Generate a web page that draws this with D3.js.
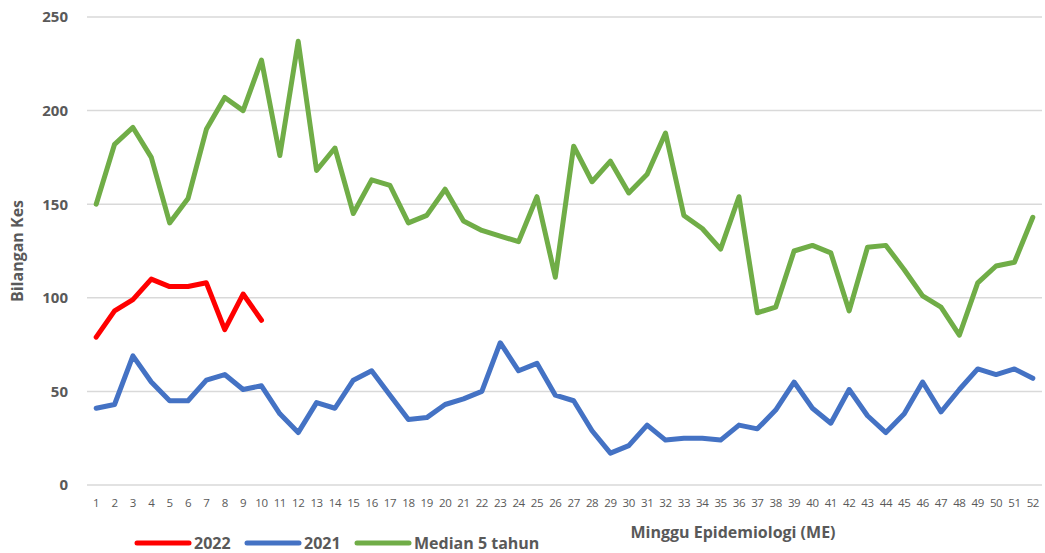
<!DOCTYPE html>
<html>
<head>
<meta charset="utf-8">
<script src="https://cdn.jsdelivr.net/npm/d3@7"></script>
<style>
  body { margin: 0; background: #fff; }
  svg { font-family: "Open Sans", "Liberation Sans", sans-serif; }
</style>
</head>
<body>
<svg id="chart" width="1045" height="553"></svg>
<script>
var weeks = d3.range(1, 53);

var yTicks = [0, 50, 100, 150, 200, 250];

// kes minggu 1-10, 2022
var cases2022 = [79, 93, 99, 110, 106, 106, 108, 83, 102, 88];

var cases2021 = [41, 43, 69, 55, 45, 45, 56, 59, 51, 53,
  38, 28, 44, 41, 56, 61, 48, 35, 36, 43,
  46, 50, 76, 61, 65, 48, 45, 29, 17, 21,
  32, 24, 25, 25, 24, 32, 30, 40, 55, 41,
  33, 51, 37, 28, 38, 55, 39, 51, 62, 59,
  62, 57];

var median5 = [150, 182, 191, 175, 140, 153, 190, 207, 200, 227,
  176, 237, 168, 180, 145, 163, 160, 140, 144, 158,
  141, 136, 133, 130, 154, 111, 181, 162, 173, 156,
  166, 188, 144, 137, 126, 154, 92, 95, 125, 128,
  124, 93, 127, 128, 115, 101, 95, 80, 108, 117,
  119, 143];

var series = [
  {name: '2022', color: '#ff0000', values: cases2022},
  {name: '2021', color: '#4472c4', values: cases2021},
  {name: 'Median 5 tahun', color: '#70ad47', values: median5}
];

var svg = d3.select('#chart');
var plotLeft = 87, plotRight = 1042, plotTop = 17, plotBottom = 485;

var x = d3.scaleBand()
  .domain(weeks)
  .range([plotLeft, plotRight]);

var y = d3.scaleLinear()
  .domain([0, 250])
  .range([plotBottom, plotTop]);

// gridlines
svg.append('g')
  .selectAll('line')
  .data(yTicks)
  .join('line')
  .attr('x1', plotLeft)
  .attr('x2', plotRight)
  .attr('y1', function(d) { return y(d); })
  .attr('y2', function(d) { return y(d); })
  .attr('stroke', '#d9d9d9')
  .attr('stroke-width', 1.5);

// y axis labels
var yAxis = svg.append('g')
  .attr('transform', 'translate(' + (plotLeft - 19) + ',0)')
  .call(d3.axisLeft(y).tickValues(yTicks).tickSize(0).tickPadding(0));
yAxis.select('.domain').remove();
yAxis.selectAll('text')
  .attr('fill', '#595959')
  .style('font-size', '15px')
  .style('font-weight', 'bold')
  .style('font-family', '"Open Sans", sans-serif');

// x axis labels
var xAxis = svg.append('g')
  .attr('transform', 'translate(0,' + plotBottom + ')')
  .call(d3.axisBottom(x).tickSize(0).tickPadding(14));
xAxis.select('.domain').remove();
xAxis.selectAll('text')
  .attr('fill', '#595959')
  .style('font-size', '11.5px')
  .style('letter-spacing', '-0.4px')
  .style('font-family', '"Open Sans", sans-serif');

var line = d3.line()
  .x(function(d, i) { return x(weeks[i]) + x.bandwidth() / 2; })
  .y(function(d) { return y(d); });

// draw lines, green behind
svg.append('g')
  .selectAll('path')
  .data(series.slice().reverse())
  .join('path')
  .attr('d', function(d) { return line(d.values); })
  .attr('fill', 'none')
  .attr('stroke', function(d) { return d.color; })
  .attr('stroke-width', 5)
  .attr('stroke-linejoin', 'round')
  .attr('stroke-linecap', 'round');

// axis titles
svg.append('text')
  .attr('x', 733)
  .attr('y', 538)
  .attr('text-anchor', 'middle')
  .attr('fill', '#595959')
  .style('font-size', '16px')
  .style('font-weight', 'bold')
  .text('Minggu Epidemiologi (ME)');

svg.append('text')
  .attr('transform', 'translate(23,251) rotate(-90)')
  .attr('text-anchor', 'middle')
  .attr('fill', '#595959')
  .style('font-size', '16px')
  .style('font-weight', 'bold')
  .text('Bilangan Kes');

// legend
var legendX = [137, 247, 357];
var legend = svg.append('g')
  .selectAll('g')
  .data(series)
  .join('g')
  .attr('transform', function(d, i) { return 'translate(' + legendX[i] + ',543)'; });

legend.append('line')
  .attr('x1', 0)
  .attr('x2', 52)
  .attr('stroke', function(d) { return d.color; })
  .attr('stroke-width', 5)
  .attr('stroke-linecap', 'round');

legend.append('text')
  .attr('x', 57)
  .attr('y', 5.5)
  .attr('fill', '#595959')
  .style('font-size', '16px')
  .style('font-weight', 'bold')
  .text(function(d) { return d.name; });
</script>
</body>
</html>
